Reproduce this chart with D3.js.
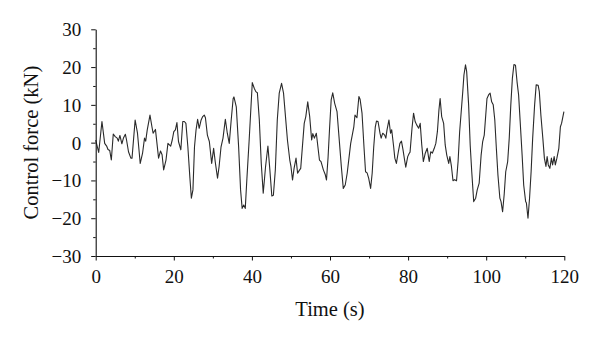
<!DOCTYPE html>
<html>
<head>
<meta charset="utf-8">
<script src="https://cdn.jsdelivr.net/npm/d3@7"></script>
<style>
  html, body { margin: 0; padding: 0; background: #fff; }
  svg { display: block; }
  svg text { font-family: "Liberation Serif", "DejaVu Serif", serif !important; fill: #111; }
</style>
</head>
<body>
<div id="chart"></div>
<script>
// ---- Data ----
const timeS = [0,0.77,1.6,2.3,2.8,3.15,3.6,4.0,4.5,5.0,5.5,5.8,6.2,6.7,7.1,7.6,7.9,8.4,9.0,9.3,
  10.1,10.7,11.4,12.0,12.5,12.8,13.2,13.9,14.4,14.7,15.3,15.5,16.1,16.6,17.0,17.4,18.0,18.5,19.2,19.6,
  20.0,20.4,20.8,21.2,21.8,22.3,22.7,23.1,23.6,24.1,24.5,24.9,25.3,25.7,26.1,26.5,27.0,27.4,27.8,28.1,
  28.6,29.1,29.7,30.2,30.6,31.2,31.6,32.1,32.6,33.2,33.7,34.2,34.7,35.2,35.4,36.0,36.6,37.1,37.5,37.9,
  38.3,38.7,39.3,40.1,40.6,41.0,41.4,41.9,42.4,42.9,43.5,44.1,44.6,45.1,45.5,46.0,46.5,47.0,47.6,48.1,
  48.6,49.1,49.7,50.0,50.4,50.8,51.3,51.7,52.1,52.5,53.0,53.4,53.8,54.3,54.8,55.3,55.6,56.0,56.5,56.9,
  57.3,57.7,58.3,58.8,59.1,59.5,59.9,60.3,60.7,61.2,61.8,62.3,62.9,63.4,63.9,64.4,64.9,65.3,65.7,66.1,
  66.4,66.9,67.4,67.7,68.2,68.7,69.1,69.5,69.9,70.4,70.8,71.2,71.6,71.9,72.3,72.8,73.1,73.5,74.0,74.3,
  74.6,75.1,75.5,75.8,76.3,76.6,77.0,77.5,77.9,78.3,78.7,79.1,79.4,79.9,80.3,80.5,81.0,81.4,81.8,82.2,
  82.7,83.1,83.5,83.9,84.4,84.9,85.4,85.8,86.2,86.7,87.1,87.5,87.9,88.2,88.6,89.1,89.5,89.9,90.4,90.7,
  91.1,91.5,91.9,92.4,92.8,93.2,93.7,94.0,94.3,94.7,95.0,95.5,95.9,96.3,96.8,97.3,97.7,98.2,98.7,99.1,
  99.5,99.9,100.2,100.7,101.0,101.4,101.8,102.2,102.6,103.0,103.5,103.8,104.2,104.6,105.0,105.5,105.9,106.3,106.7,107.1,
  107.5,107.9,108.3,108.7,109.2,109.6,110.1,110.3,110.7,111.1,111.5,111.9,112.4,112.8,113.3,113.6,114.0,114.5,114.9,115.3,
  115.6,115.9,116.3,116.7,117.0,117.4,117.7,118.1,118.6,119.0,119.3,119.9];
const forceKN = [0.7,-2.6,5.6,-0.2,-0.9,-1.8,-2.1,-4.6,2.3,1.6,1.2,0.4,1.9,-0.3,1.2,2.2,0.7,-2.4,-4.1,-4.1,
  6.0,2.5,-5.5,-2.8,1.2,0.4,3.4,7.3,4.2,2.5,3.5,1.6,-4.1,-2.2,-3.2,-7.2,-4.6,-0.2,-0.9,0.7,
  2.9,3.4,5.3,0.3,-1.9,5.6,5.6,5.1,-1.1,-9.0,-14.7,-12.5,-1.1,3.4,6.2,3.8,6.0,6.9,7.3,6.6,
  2.0,0.3,-5.5,-1.5,-5.0,-9.4,-6.3,-1.1,1.2,6.2,2.5,-0.2,6.0,11.7,12.1,9.5,-1.1,-12.5,-17.4,-16.5,
  -17.4,-9.9,0.7,15.9,14.4,13.5,13.2,6.0,-5.5,-13.4,-6.3,-0.9,-7.2,-14.1,-13.9,-7.2,6.0,13.1,15.7,13.1,
  6.9,0.7,-4.6,-6.3,-9.9,-6.8,-4.1,-8.1,-7.4,-6.8,-0.2,5.1,6.9,10.8,6.9,0.7,2.4,1.2,2.5,-1.1,
  -4.6,-5.0,-7.2,-8.5,-9.9,-4.0,4.0,11.3,13.2,10.4,8.2,1.6,-6.3,-12.1,-11.2,-8.1,-3.7,-0.2,2.0,4.2,
  7.3,6.6,12.2,11.5,7.8,-1.1,-7.7,-8.0,-9.4,-12.1,-8.1,-1.1,4.2,5.7,5.6,2.5,1.2,2.5,2.0,1.2,
  3.4,6.0,2.5,3.4,-1.1,-4.1,-5.5,-2.4,-0.2,0.4,-1.9,-4.6,-6.5,-3.7,-2.8,-2.5,3.8,7.8,5.6,4.7,
  3.8,5.1,-0.6,-5.0,-2.8,-1.5,-5.0,-2.4,-2.8,-1.5,-0.2,2.9,8.7,11.7,6.9,5.1,-0.6,-3.3,-5.5,-3.7,
  -6.3,-10.1,-9.8,-10.1,-5.0,2.9,9.5,13.5,17.9,20.6,18.8,10.0,-0.6,-7.7,-15.6,-14.7,-12.5,-10.7,-3.3,0.3,
  2.0,7.5,11.7,12.8,13.1,10.8,10.0,6.0,-1.5,-8.5,-14.7,-15.6,-18.3,-13.8,-7.7,-5.0,1.2,10.0,17.0,20.7,
  20.5,16.1,12.6,5.6,-3.3,-11.2,-15.6,-16.0,-20.0,-14.7,-7.7,1.2,10.0,15.3,15.2,13.5,7.3,1.2,-4.1,-6.3,
  -3.7,-5.9,-6.8,-4.1,-5.9,-3.7,-5.9,-4.1,-1.5,4.2,5.1,8.2];

const xTicks = [0, 20, 40, 60, 80, 100, 120];
const xMinorTicks = [10, 30, 50, 70, 90, 110];
const yTicks = [-30, -20, -10, 0, 10, 20, 30];
const yMinorTicks = [-25, -15, -5, 5, 15, 25];
const xTitle = "Time (s)";
const yTitle = "Control force (kN)";

// ---- Layout ----
const W = 600, H = 339;
const mLeft = 95.7, mRight = 564.3, mTop = 29.3, mBottom = 256;
const serif = '"Liberation Serif", "DejaVu Serif", serif';

const svg = d3.select("#chart").append("svg").attr("width", W).attr("height", H);

const x = d3.scaleLinear().domain([0, 120]).range([mLeft, mRight]);
const y = d3.scaleLinear().domain([-30, 30]).range([mBottom, mTop]);

// data line
const pts = timeS.map((t, i) => [t, forceKN[i]]);
svg.append("path")
  .datum(pts)
  .attr("fill", "none")
  .attr("stroke", "#2a2a2a")
  .attr("stroke-width", 1.1)
  .attr("stroke-linejoin", "round")
  .attr("d", d3.line().x(d => x(d[0])).y(d => y(d[1])));

// axes
const xAxis = svg.append("g").attr("transform", `translate(0,${mBottom})`)
  .call(d3.axisBottom(x).tickValues(xTicks).tickSize(4.5).tickSizeOuter(0).tickFormat(d3.format("")));
const xMinor = svg.append("g").attr("transform", `translate(0,${mBottom})`)
  .call(d3.axisBottom(x).tickValues(xMinorTicks).tickSize(2.5).tickSizeOuter(0).tickFormat(""));
const yAxis = svg.append("g").attr("transform", `translate(${mLeft},0)`)
  .call(d3.axisLeft(y).tickValues(yTicks).tickSize(4.5).tickSizeOuter(0).tickFormat(d3.format("")));
const yMinor = svg.append("g").attr("transform", `translate(${mLeft},0)`)
  .call(d3.axisLeft(y).tickValues(yMinorTicks).tickSize(2.5).tickSizeOuter(0).tickFormat(""));

[xAxis, xMinor, yAxis, yMinor].forEach(g => {
  g.attr("font-family", serif).attr("font-size", 19);
  g.selectAll("path.domain").attr("stroke", "#111").attr("stroke-width", 1.1);
  g.selectAll("line").attr("stroke", "#111").attr("stroke-width", 1);
});
xMinor.select("path.domain").remove();
yMinor.select("path.domain").remove();

xAxis.selectAll("text")
  .attr("y", 27).attr("dy", "0")
  .attr("font-family", serif).attr("font-size", 19).attr("fill", "#111");
yAxis.selectAll("text")
  .attr("x", -14.5).attr("dy", "0.34em")
  .attr("font-family", serif).attr("font-size", 19).attr("fill", "#111");

// titles
svg.append("text")
  .attr("x", (mLeft + mRight) / 2).attr("y", 316)
  .attr("text-anchor", "middle")
  .attr("font-family", serif).attr("font-size", 20.5)
  .text(xTitle);

svg.append("text")
  .attr("transform", `translate(38,${(mTop + mBottom) / 2}) rotate(-90)`)
  .attr("text-anchor", "middle")
  .attr("font-family", serif).attr("font-size", 20.5)
  .text(yTitle);
</script>
</body>
</html>
